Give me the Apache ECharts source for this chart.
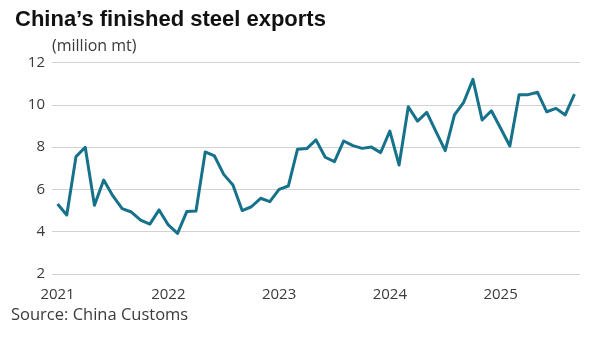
<!DOCTYPE html>
<html>
<head>
<meta charset="utf-8">
<script src="https://cdn.jsdelivr.net/npm/echarts@6/dist/echarts.min.js"></script>
<style>
  html, body { margin: 0; padding: 0; background: #ffffff; }
  #chart { width: 600px; height: 340px; }
</style>
</head>
<body>
<div id="chart"></div>
<script>
// Monthly finished steel exports, Jan 2021 - Sep 2025 (million mt)
const exports2021 = [5.31, 4.79, 7.55, 7.99, 5.25, 6.44, 5.69, 5.09, 4.93, 4.55, 4.36, 5.03];
const exports2022 = [4.32, 3.92, 4.95, 4.98, 7.77, 7.58, 6.71, 6.21, 5.00, 5.18, 5.58, 5.42];
const exports2023 = [6.00, 6.16, 7.90, 7.93, 8.34, 7.52, 7.31, 8.29, 8.07, 7.94, 8.00, 7.74];
const exports2024 = [8.76, 7.15, 9.91, 9.23, 9.64, 8.73, 7.83, 9.52, 10.12, 11.20, 9.28, 9.72];
const exports2025 = [8.89, 8.05, 10.48, 10.48, 10.59, 9.67, 9.83, 9.52, 10.50];

const yearLabels = ['2021', '2022', '2023', '2024', '2025'];
const yTicks = [2, 4, 6, 8, 10, 12];

const monthly = [].concat(exports2021, exports2022, exports2023, exports2024, exports2025);
const seriesData = monthly.map((v, i) => [i, v]);
const yearStarts = yearLabels.map((_, k) => k * 12);

const chart = echarts.init(document.getElementById('chart'), null, { renderer: 'canvas' });

const textFont = '"Open Sans", "Liberation Sans", sans-serif';
const textColor = '#3a3a3a';

chart.setOption({
  backgroundColor: '#ffffff',
  animation: false,
  title: {
    text: 'China\u2019s finished steel exports',
    left: 10,
    top: 4,
    textStyle: {
      fontFamily: '"Liberation Sans", Arial, sans-serif',
      fontSize: 22,
      fontWeight: 'bold',
      color: '#111111'
    }
  },
  graphic: [
    {
      type: 'text',
      left: 52,
      top: 38,
      style: {
        text: '(million mt)',
        font: '16px ' + textFont,
        fill: textColor
      }
    },
    {
      type: 'text',
      left: 11,
      top: 307,
      style: {
        text: 'Source: China Customs',
        font: '16.5px ' + textFont,
        fill: textColor
      }
    }
  ],
  grid: {
    left: 52,
    right: 20,
    top: 62.5,
    bottom: 66,
    containLabel: false
  },
  xAxis: {
    type: 'value',
    min: -0.6,
    max: 56.6,
    axisLine: { show: false },
    axisTick: { show: false },
    splitLine: { show: false },
    axisLabel: {
      customValues: yearStarts,
      margin: 13,
      fontFamily: textFont,
      fontSize: 15,
      color: textColor,
      formatter: (v) => yearLabels[Math.round(v / 12)]
    }
  },
  yAxis: {
    type: 'value',
    min: yTicks[0],
    max: yTicks[yTicks.length - 1],
    interval: 2,
    axisLine: { show: false },
    axisTick: { show: false },
    splitLine: { show: true, lineStyle: { color: '#d2d2d2', width: 1 } },
    axisLabel: {
      margin: 7,
      fontFamily: textFont,
      fontSize: 15,
      color: textColor
    }
  },
  series: [
    {
      type: 'line',
      data: seriesData,
      showSymbol: false,
      lineStyle: { color: '#16718a', width: 3, join: 'round' },
      itemStyle: { color: '#16718a' }
    }
  ]
});
</script>
</body>
</html>
